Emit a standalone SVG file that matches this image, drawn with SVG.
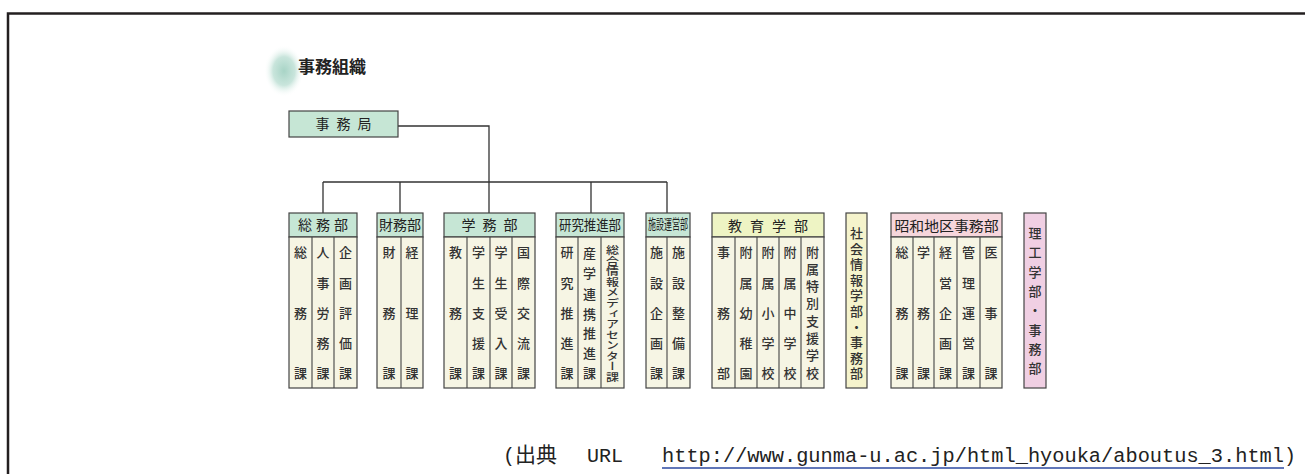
<svg xmlns="http://www.w3.org/2000/svg" width="1305" height="474" viewBox="0 0 1305 474">
<style>
.frame{stroke:#231f20;stroke-width:2.5;fill:none}
.conn{stroke:#333;stroke-width:1.3;fill:none}
.hd{fill:#c6e6d5;stroke:#444;stroke-width:1.2}
.hdy{fill:#eef4c4;stroke:#444;stroke-width:1.2}
.hdp{fill:#f6d6dc;stroke:#444;stroke-width:1.2}
.bd{fill:#f6f5e4;stroke:#444;stroke-width:1.2}
.vy{fill:#f5f3cc;stroke:#444;stroke-width:1.2}
.vp{fill:#f0cfe3;stroke:#444;stroke-width:1.2}
.dv{stroke:#444;stroke-width:1.1}
.h{font-family:"Noto Sans CJK JP","Noto Sans CJK SC",sans-serif;font-size:14px;fill:#222;text-anchor:middle}
.c{font-family:"Noto Sans CJK JP","Noto Sans CJK SC",sans-serif;font-size:13px;font-weight:500;fill:#333;text-anchor:middle}
.foot{font-family:"Liberation Mono","Noto Sans CJK JP",monospace;font-size:20px;fill:#222}
</style>
<defs>
<radialGradient id="blob" cx="0.5" cy="0.5" r="0.5">
<stop offset="0" stop-color="#a8d4c6"/>
<stop offset="0.55" stop-color="#c9e5dc"/>
<stop offset="1" stop-color="#ffffff" stop-opacity="0"/>
</radialGradient>
</defs>
<path class="frame" d="M8 474 V13.5 H1305"/>

<g id="title">
<ellipse cx="284" cy="71" rx="20" ry="26" fill="url(#blob)"/>
<text x="298" y="73" font-family="Noto Sans CJK JP, sans-serif" font-size="17" font-weight="bold" fill="#222">事務組織</text>
</g>

<g id="connectors">
<path class="conn" d="M398 126 H489 V182"/>
<path class="conn" d="M323 182 H667"/>
<path class="conn" d="M323 182 V213 M400 182 V213 M489 182 V213 M591 182 V213 M667 182 V213"/>
</g>

<g id="jimukyoku">
<rect class="hd" x="289" y="111" width="109" height="26"/>
<text class="h" x="343.5" y="129" font-size="15" textLength="56" lengthAdjust="spacing">事務局</text>
</g>

<g id="somubu">
<rect class="hd" x="289" y="213" width="68" height="24"/>
<rect class="bd" x="289" y="237" width="68" height="151"/>
<path class="dv" d="M312 237 V388 M334 237 V388"/>
<text class="h" x="323" y="230" textLength="50" lengthAdjust="spacing">総務部</text>
<text class="c" x="300.5 300.5 300.5" y="257 318 378">総務課</text>
<text class="c" x="323 323 323 323 323" y="257 288 318 348 378">人事労務課</text>
<text class="c" x="345.5 345.5 345.5 345.5 345.5" y="257 288 318 348 378">企画評価課</text>
</g>

<g id="zaimubu">
<rect class="hd" x="377" y="213" width="46" height="24"/>
<rect class="bd" x="377" y="237" width="46" height="151"/>
<path class="dv" d="M401 237 V388"/>
<text class="h" x="400" y="230" font-size="13" textLength="42" lengthAdjust="spacingAndGlyphs">財務部</text>
<text class="c" x="389 389 389" y="257 318 378">財務課</text>
<text class="c" x="412 412 412" y="257 318 378">経理課</text>
</g>

<g id="gakumubu">
<rect class="hd" x="444" y="213" width="91" height="24"/>
<rect class="bd" x="444" y="237" width="91" height="151"/>
<path class="dv" d="M467 237 V388 M490 237 V388 M512 237 V388"/>
<text class="h" x="489.5" y="230" font-size="15" textLength="56" lengthAdjust="spacing">学務部</text>
<text class="c" x="455.5 455.5 455.5" y="257 318 378">教務課</text>
<text class="c" x="478.5 478.5 478.5 478.5 478.5" y="257 288 318 348 378">学生支援課</text>
<text class="c" x="501 501 501 501 501" y="257 288 318 348 378">学生受入課</text>
<text class="c" x="523.5 523.5 523.5 523.5 523.5" y="257 288 318 348 378">国際交流課</text>
</g>

<g id="kenkyu">
<rect class="hd" x="556" y="213" width="68" height="24"/>
<rect class="bd" x="556" y="237" width="68" height="151"/>
<path class="dv" d="M578 237 V388 M601 237 V388"/>
<text class="h" x="590" y="230" font-size="13" textLength="62" lengthAdjust="spacingAndGlyphs">研究推進部</text>
<text class="c" x="567 567 567 567 567" y="257 288 318 348 378">研究推進課</text>
<text class="c" x="589.5 589.5 589.5 589.5 589.5 589.5 589.5" y="258 278 299 319 338 358 378">産学連携推進課</text>
<text class="c" x="612.5" y="245" font-size="9.5" style="writing-mode:vertical-rl;text-anchor:start" textLength="137" lengthAdjust="spacingAndGlyphs">総合情報メディアセンター課</text>
</g>

<g id="shisetsu">
<rect class="hd" x="646" y="213" width="44" height="24"/>
<rect class="bd" x="646" y="237" width="44" height="151"/>
<path class="dv" d="M667 237 V388"/>
<text class="h" x="668" y="229" font-size="11" textLength="40" lengthAdjust="spacingAndGlyphs">施設運営部</text>
<text class="c" x="656.5 656.5 656.5 656.5 656.5" y="257 288 318 348 378">施設企画課</text>
<text class="c" x="678.5 678.5 678.5 678.5 678.5" y="257 288 318 348 378">施設整備課</text>
</g>

<g id="kyoiku">
<rect class="hdy" x="712" y="213" width="112" height="24"/>
<rect class="bd" x="712" y="237" width="112" height="151"/>
<path class="dv" d="M735 237 V388 M757 237 V388 M779 237 V388 M801 237 V388"/>
<text class="h" x="768" y="231" font-size="15" textLength="80" lengthAdjust="spacing">教育学部</text>
<text class="c" x="723.5 723.5 723.5" y="257 318 378">事務部</text>
<text class="c" x="746 746 746 746 746" y="257 288 318 348 378">附属幼稚園</text>
<text class="c" x="768 768 768 768 768" y="257 288 318 348 378">附属小学校</text>
<text class="c" x="790 790 790 790 790" y="257 288 318 348 378">附属中学校</text>
<text class="c" x="812.5 812.5 812.5 812.5 812.5 812.5 812.5 812.5" y="257 274 291 308 326 343 360 378">附属特別支援学校</text>
</g>

<g id="shakai">
<rect class="vy" x="846" y="213" width="21" height="175"/>
<text class="c" x="856.5 856.5 856.5 856.5 856.5 856.5 856.5 856.5 856.5 856.5" y="238 253.6 269.2 284.8 300.4 316 331.6 347.2 362.8 378.4">社会情報学部・事務部</text>
</g>

<g id="showa">
<rect class="hdp" x="891" y="213" width="111" height="24"/>
<rect class="bd" x="891" y="237" width="111" height="151"/>
<path class="dv" d="M913 237 V388 M934 237 V388 M957 237 V388 M980 237 V388"/>
<text class="h" x="946.5" y="231" font-size="15" textLength="104" lengthAdjust="spacingAndGlyphs">昭和地区事務部</text>
<text class="c" x="902 902 902" y="257 318 378">総務課</text>
<text class="c" x="923.5 923.5 923.5" y="257 318 378">学務課</text>
<text class="c" x="945.5 945.5 945.5 945.5 945.5" y="257 288 318 348 378">経営企画課</text>
<text class="c" x="968.5 968.5 968.5 968.5 968.5" y="257 288 318 348 378">管理運営課</text>
<text class="c" x="991 991 991" y="257 318 378">医事課</text>
</g>

<g id="riko">
<rect class="vp" x="1024" y="213" width="22" height="175"/>
<text class="c" x="1035 1035 1035 1035 1035 1035 1035 1035" y="238 257.3 276.6 295.9 315.2 334.5 353.8 373.1">理工学部・事務部</text>
</g>

<g id="source">
<text class="foot" y="462"><tspan x="503">(</tspan><tspan x="515" font-family="Noto Sans CJK JP, sans-serif" font-size="21">出典</tspan><tspan x="587" textLength="36" lengthAdjust="spacingAndGlyphs">URL</tspan></text>
<text class="foot" x="662" y="462" fill="#3a55a8" textLength="622" lengthAdjust="spacingAndGlyphs">http://www.gunma-u.ac.jp/html_hyouka/aboutus_3.html</text>
<line x1="662" y1="468" x2="1284" y2="468" stroke="#2b48a0" stroke-width="1.5"/>
<text class="foot" x="1284" y="462">)</text>
</g>
</svg>
